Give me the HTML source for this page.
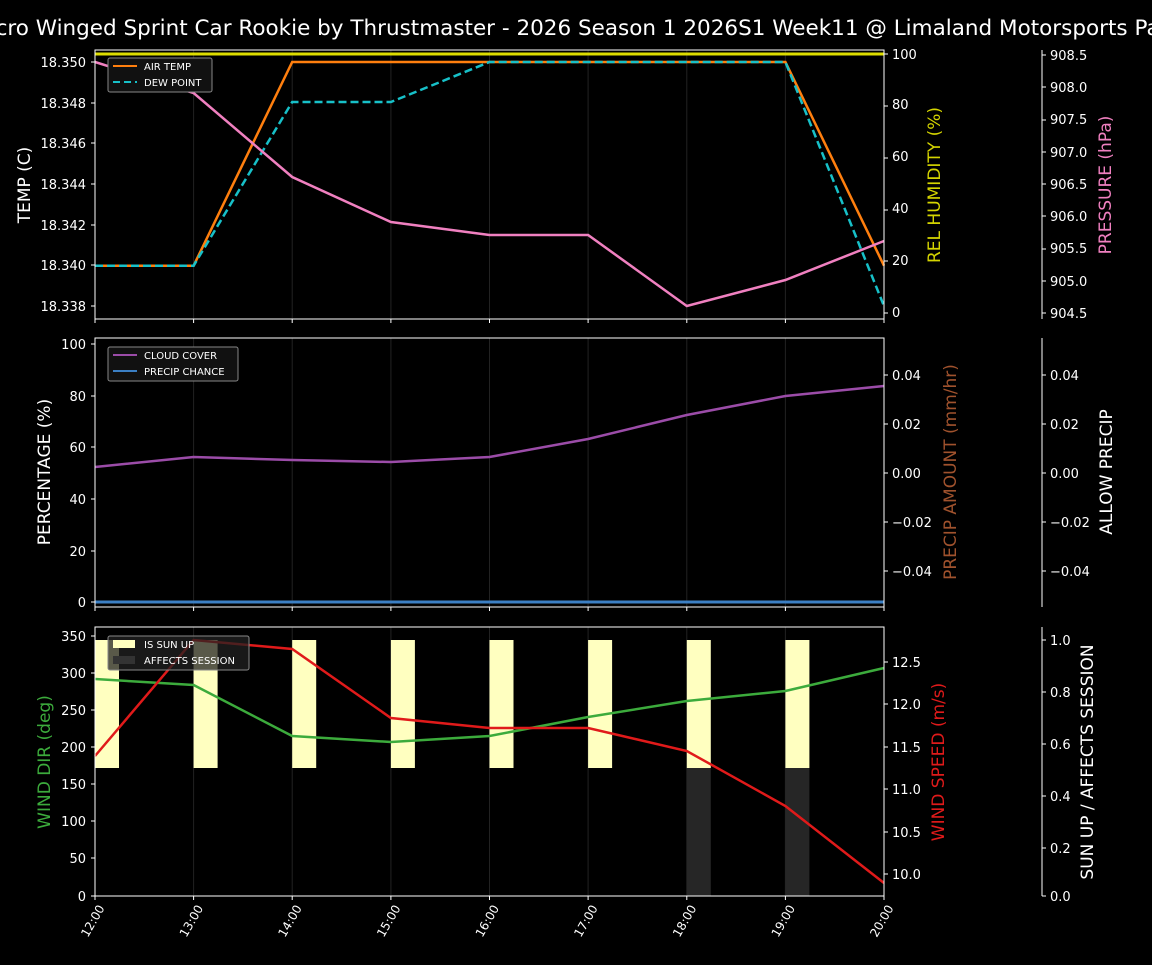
<!DOCTYPE html><html><head><style>body{margin:0;background:#000;overflow:hidden}svg text{font-family:"DejaVu Sans","Liberation Sans",sans-serif;fill:#fff}</style></head><body>
<svg width="1152" height="960" xmlns="http://www.w3.org/2000/svg">
<rect width="1152" height="960" fill="#000"/>
<text x="576" y="35" font-size="21.5" text-anchor="middle">Micro Winged Sprint Car Rookie by Thrustmaster - 2026 Season 1 2026S1 Week11 @ Limaland Motorsports Park</text>
<g stroke="#222" stroke-width="1">
<line x1="193.6" y1="50" x2="193.6" y2="319"/><line x1="292.2" y1="50" x2="292.2" y2="319"/><line x1="390.9" y1="50" x2="390.9" y2="319"/><line x1="489.5" y1="50" x2="489.5" y2="319"/><line x1="588.1" y1="50" x2="588.1" y2="319"/><line x1="686.8" y1="50" x2="686.8" y2="319"/><line x1="785.4" y1="50" x2="785.4" y2="319"/>
<line x1="193.6" y1="338" x2="193.6" y2="607"/><line x1="292.2" y1="338" x2="292.2" y2="607"/><line x1="390.9" y1="338" x2="390.9" y2="607"/><line x1="489.5" y1="338" x2="489.5" y2="607"/><line x1="588.1" y1="338" x2="588.1" y2="607"/><line x1="686.8" y1="338" x2="686.8" y2="607"/><line x1="785.4" y1="338" x2="785.4" y2="607"/>
<line x1="193.6" y1="627" x2="193.6" y2="896"/><line x1="292.2" y1="627" x2="292.2" y2="896"/><line x1="390.9" y1="627" x2="390.9" y2="896"/><line x1="489.5" y1="627" x2="489.5" y2="896"/><line x1="588.1" y1="627" x2="588.1" y2="896"/><line x1="686.8" y1="627" x2="686.8" y2="896"/><line x1="785.4" y1="627" x2="785.4" y2="896"/>
</g>
<!-- panel1 -->
<line x1="95" y1="54" x2="884" y2="54" stroke="#dddd00" stroke-width="3"/>
<polyline fill="none" stroke="#ff7f0e" stroke-width="2.5" points="95,265.7 193.6,265.7 292.2,62 390.9,62 489.5,62 588.1,62 686.8,62 785.4,62 884,265.7"/>
<polyline fill="none" stroke="#17c0c8" stroke-width="2.5" stroke-dasharray="8,4" points="95,265.7 193.6,265.7 292.2,102 390.9,102 489.5,62 588.1,62 686.8,62 785.4,62 884,306"/>
<polyline fill="none" stroke="#f080c0" stroke-width="2.5" points="95,62 193.6,93 292.2,177 390.9,222 489.5,235 588.1,235 686.8,306 785.4,280 884,241"/>
<rect x="95" y="50" width="789" height="269" fill="none" stroke="#fff"/>
<rect x="108" y="58" width="104" height="34" fill="#111" stroke="#888" rx="2"/>
<line x1="113" y1="66" x2="137" y2="66" stroke="#ff7f0e" stroke-width="2"/><text x="144" y="70" font-size="10">AIR TEMP</text>
<line x1="113" y1="82" x2="137" y2="82" stroke="#17c0c8" stroke-width="2" stroke-dasharray="7,4"/><text x="144" y="86" font-size="10">DEW POINT</text>
<g stroke="#fff">
<path d="M91 62h4M91 103h4M91 143h4M91 184h4M91 225h4M91 265h4M91 306h4"/>
<path d="M884 54h4M884 106h4M884 158h4M884 210h4M884 261h4M884 313h4"/>
<path d="M1042 55h4M1042 87h4M1042 120h4M1042 152h4M1042 184h4M1042 216h4M1042 249h4M1042 281h4M1042 313h4"/>
<path d="M91 344h4M91 396h4M91 447h4M91 499h4M91 551h4M91 602h4"/>
<path d="M884 375h4M884 424h4M884 473h4M884 522h4M884 571h4M1042 375h4M1042 424h4M1042 473h4M1042 522h4M1042 571h4"/>
<path d="M91 636h4M91 673h4M91 710h4M91 747h4M91 784h4M91 821h4M91 858h4M91 896h4"/>
<path d="M884 662h4M884 704h4M884 747h4M884 789h4M884 832h4M884 874h4"/>
<path d="M1042 640h4M1042 692h4M1042 744h4M1042 796h4M1042 848h4M1042 896h4"/>
<path d="M95 319v4M193.6 319v4M292.2 319v4M390.9 319v4M489.5 319v4M588.1 319v4M686.8 319v4M785.4 319v4M884 319v4"/>
<path d="M95 607v4M193.6 607v4M292.2 607v4M390.9 607v4M489.5 607v4M588.1 607v4M686.8 607v4M785.4 607v4M884 607v4"/>
<path d="M95 896v4M193.6 896v4M292.2 896v4M390.9 896v4M489.5 896v4M588.1 896v4M686.8 896v4M785.4 896v4M884 896v4"/>
</g>
<g font-size="13" text-anchor="end">
<text x="86" y="67">18.350</text><text x="86" y="108">18.348</text><text x="86" y="148">18.346</text><text x="86" y="189">18.344</text><text x="86" y="230">18.342</text><text x="86" y="270">18.340</text><text x="86" y="311">18.338</text></g>
<g font-size="13"><text x="892" y="59">100</text><text x="892" y="109">80</text><text x="892" y="161">60</text><text x="892" y="213">40</text><text x="892" y="265">20</text><text x="892" y="317">0</text></g>
<g font-size="13"><text x="1050" y="60">908.5</text><text x="1050" y="92">908.0</text><text x="1050" y="124">907.5</text><text x="1050" y="157">907.0</text><text x="1050" y="189">906.5</text><text x="1050" y="221">906.0</text><text x="1050" y="253">905.5</text><text x="1050" y="286">905.0</text><text x="1050" y="318">904.5</text></g>
<line x1="1042" y1="50" x2="1042" y2="319" stroke="#fff"/>
<text transform="translate(30,185) rotate(-90)" font-size="17" text-anchor="middle">TEMP (C)</text>
<text transform="translate(940,185) rotate(-90)" font-size="17" text-anchor="middle" style="fill:#d4d400">REL HUMIDITY (%)</text>
<text transform="translate(1111,185) rotate(-90)" font-size="17" text-anchor="middle" style="fill:#f080c0">PRESSURE (hPa)</text>
<!-- panel2 -->
<polyline fill="none" stroke="#9b4ca8" stroke-width="2.5" points="95,467 193.6,457 292.2,460 390.9,462 489.5,457 588.1,439 686.8,415 785.4,396 884,386"/>
<line x1="95" y1="602" x2="884" y2="602" stroke="#3b7fc4" stroke-width="3"/>
<rect x="95" y="338" width="789" height="269" fill="none" stroke="#fff"/>
<rect x="108" y="347" width="130" height="34" fill="#111" stroke="#888" rx="2"/>
<line x1="113" y1="355" x2="137" y2="355" stroke="#9b4ca8" stroke-width="2"/><text x="144" y="359" font-size="10">CLOUD COVER</text>
<line x1="113" y1="371" x2="137" y2="371" stroke="#3b7fc4" stroke-width="2"/><text x="144" y="375" font-size="10">PRECIP CHANCE</text>
<g font-size="13" text-anchor="end"><text x="86" y="349">100</text><text x="86" y="401">80</text><text x="86" y="504">40</text><text x="86" y="452">60</text><text x="86" y="556">20</text><text x="86" y="607">0</text></g>
<g font-size="13"><text x="892" y="380">0.04</text><text x="892" y="429">0.02</text><text x="892" y="478">0.00</text><text x="892" y="527">−0.02</text><text x="892" y="576">−0.04</text>
<text x="1050" y="380">0.04</text><text x="1050" y="429">0.02</text><text x="1050" y="478">0.00</text><text x="1050" y="527">−0.02</text><text x="1050" y="576">−0.04</text></g>
<line x1="1042" y1="338" x2="1042" y2="607" stroke="#fff"/>
<text transform="translate(50,472) rotate(-90)" font-size="17" text-anchor="middle">PERCENTAGE (%)</text>
<text transform="translate(956,472) rotate(-90)" font-size="17" text-anchor="middle" style="fill:#a0522d">PRECIP AMOUNT (mm/hr)</text>
<text transform="translate(1112,472) rotate(-90)" font-size="17" text-anchor="middle">ALLOW PRECIP</text>
<!-- panel3 -->
<g fill="#ffffc0"><rect x="95" y="640" width="24" height="128"/><rect x="193.6" y="640" width="24" height="128"/><rect x="292.2" y="640" width="24" height="128"/><rect x="390.9" y="640" width="24" height="128"/><rect x="489.5" y="640" width="24" height="128"/><rect x="588.1" y="640" width="24" height="128"/><rect x="686.8" y="640" width="24" height="128"/><rect x="785.4" y="640" width="24" height="128"/></g>
<g fill="#262626"><rect x="686.8" y="768" width="24" height="128"/><rect x="785.4" y="768" width="24" height="128"/></g>
<polyline fill="none" stroke="#3cab3c" stroke-width="2.5" points="95,679 193.6,685 292.2,736 390.9,742 489.5,736 588.1,717 686.8,701 785.4,691 884,668"/>
<polyline fill="none" stroke="#e01a1a" stroke-width="2.5" points="95,756 193.6,640 292.2,649 390.9,718 489.5,728 588.1,728 686.8,751 785.4,806 884,883"/>
<rect x="95" y="627" width="789" height="269" fill="none" stroke="#fff"/>
<rect x="108" y="636" width="141" height="34" fill="#222" fill-opacity="0.75" stroke="#888" rx="2"/>
<rect x="113" y="640" width="22" height="8" fill="#ffffc0"/><text x="144" y="648" font-size="10">IS SUN UP</text>
<rect x="113" y="656" width="22" height="8" fill="#333"/><text x="144" y="664" font-size="10">AFFECTS SESSION</text>
<g font-size="13" text-anchor="end"><text x="86" y="641">350</text><text x="86" y="678">300</text><text x="86" y="715">250</text><text x="86" y="752">200</text><text x="86" y="789">150</text><text x="86" y="826">100</text><text x="86" y="863">50</text><text x="86" y="901">0</text></g>
<g font-size="13"><text x="892" y="667">12.5</text><text x="892" y="709">12.0</text><text x="892" y="752">11.5</text><text x="892" y="794">11.0</text><text x="892" y="837">10.5</text><text x="892" y="879">10.0</text>
<text x="1050" y="645">1.0</text><text x="1050" y="697">0.8</text><text x="1050" y="749">0.6</text><text x="1050" y="801">0.4</text><text x="1050" y="853">0.2</text><text x="1050" y="901">0.0</text></g>
<line x1="1042" y1="627" x2="1042" y2="896" stroke="#fff"/>
<text transform="translate(50,762) rotate(-90)" font-size="17" text-anchor="middle" style="fill:#3cab3c">WIND DIR (deg)</text>
<text transform="translate(944,762) rotate(-90)" font-size="17" text-anchor="middle" style="fill:#e01a1a">WIND SPEED (m/s)</text>
<text transform="translate(1093,762) rotate(-90)" font-size="17" text-anchor="middle">SUN UP / AFFECTS SESSION</text>
<g font-size="12" text-anchor="end">
<text transform="translate(105,908) rotate(-60)">12:00</text><text transform="translate(203.6,908) rotate(-60)">13:00</text><text transform="translate(302.2,908) rotate(-60)">14:00</text><text transform="translate(400.9,908) rotate(-60)">15:00</text><text transform="translate(499.5,908) rotate(-60)">16:00</text><text transform="translate(598.1,908) rotate(-60)">17:00</text><text transform="translate(696.8,908) rotate(-60)">18:00</text><text transform="translate(795.4,908) rotate(-60)">19:00</text><text transform="translate(894,908) rotate(-60)">20:00</text></g>
</svg></body></html>
